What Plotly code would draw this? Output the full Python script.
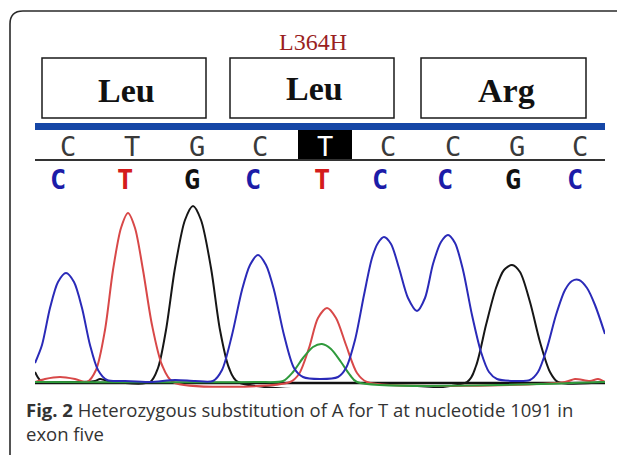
import plotly.graph_objects as go

W, H = 617, 447   # page body margin of 8px shifts the figure; 8+617 = 625
OFF = 8

# ---- data ----
codons = ["Leu", "Leu", "Arg"]
mutation_label = "L364H"
ref_bases = ["C", "T", "G", "C", "T", "C", "C", "G", "C"]
ref_pos = [33, 97, 162, 225, 290, 353, 418, 482, 545]
call_bases = ["C", "T", "G", "C", "T", "C", "C", "G", "C"]
call_pos = [23, 90, 157, 218, 287, 345, 410, 478, 540]
highlight_index = 4

blue_x = [0, 7, 15, 23, 31, 39, 47, 55, 63, 72, 90, 115, 140, 160, 178, 187, 197, 207, 215, 223, 231, 239, 249, 259,
          268, 285, 303, 311, 320, 329, 337, 343, 349, 356, 364, 373, 382, 390, 398, 406, 413, 420, 428, 437, 446, 454,
          462, 480, 495, 503, 512, 521, 530, 537, 544, 552, 560, 570]
blue_y = [20, 38, 75, 101, 110, 101, 75, 38, 13, 3, 2, 1, 3, 2, 2, 13, 48, 93, 118, 128, 118, 93, 48, 15,
          6, 4, 6, 15, 43, 88, 125, 140, 146, 139, 115, 85, 72, 85, 119, 141, 148, 140, 113, 68, 31, 11,
          4, 2, 3, 11, 35, 68, 93, 102, 103, 95, 78, 49]
red_x = [0, 10, 25, 40, 52, 61, 70, 78, 86, 93, 100, 108, 117, 127, 138, 255, 264, 274, 283, 292, 301, 311, 322, 332,
         530, 540, 555, 563, 570]
red_y = [1, 4, 6, 4, 1, 13, 53, 113, 155, 170, 155, 113, 58, 18, 1, 1, 9, 35, 65, 75, 65, 38, 10, 1,
         1, 4, 2, 4, 1]
black_x = [0, 6, 25, 60, 65, 73, 115, 123, 131, 140, 150, 158, 166, 176, 185, 194, 203, 432, 441, 451, 461, 469, 477,
           485, 495, 505, 515, 523, 570]
black_y = [11, 2, 1, 2, 4, 2, 1, 15, 53, 115, 163, 177, 163, 115, 53, 15, 1, 1, 17, 58, 95, 113, 118,
           111, 81, 41, 11, 1, 1]
green_x = [0, 220, 248, 258, 268, 278, 287, 296, 306, 315, 322, 570]
green_y = [1, 1, 2, 11, 25, 36, 39, 34, 21, 8, 1, 1]

caption = "<b>Fig. 2</b> Heterozygous substitution of A for T at nucleotide 1091 in<br>exon five"


def px(x):
    return (x - OFF) / W


def py(y):
    return 1 - (y - OFF) / H


fig = go.Figure()
channels = [
    (black_x, black_y, "#161616", "G"),
    (red_x, red_y, "#d84848", "T"),
    (green_x, green_y, "#2f9a3c", "A"),
    (blue_x, blue_y, "#2a2ab8", "C"),
]
for xs, ys, col, nm in channels:
    fig.add_trace(go.Scatter(x=xs, y=ys, mode="lines", name=nm,
                             line=dict(color=col, width=2, shape="spline", smoothing=0.8),
                             hoverinfo="skip", showlegend=False))

shapes = []
shapes.append(dict(type="path", xref="paper", yref="paper",
                   path=f"M {px(10)},{py(470)} L {px(10)},{py(24)} Q {px(10)},{py(11)} {px(23)},{py(11)} L {px(640)},{py(11)}",
                   line=dict(color="#2a2a2a", width=1.6)))
for x0, x1 in [(42, 206), (230, 394), (421, 586)]:
    shapes.append(dict(type="rect", xref="paper", yref="paper", x0=px(x0), x1=px(x1), y0=py(118), y1=py(58),
                       line=dict(color="#1a1a1a", width=1.5), fillcolor="rgba(0,0,0,0)"))
shapes.append(dict(type="rect", xref="paper", yref="paper", x0=px(35), x1=px(605), y0=py(130), y1=py(123),
                   line=dict(width=0), fillcolor="#1546a6"))
shapes.append(dict(type="rect", xref="paper", yref="paper", x0=px(298), x1=px(352), y0=py(159), y1=py(130),
                   line=dict(width=0), fillcolor="#000000"))
shapes.append(dict(type="line", xref="paper", yref="paper", x0=px(35), x1=px(605), y0=py(160), y1=py(160),
                   line=dict(color="#333333", width=2)))
shapes.append(dict(type="line", xref="x", yref="y", x0=0, x1=570, y0=0, y1=0,
                   line=dict(color="#111111", width=2.5), layer="below"))

MONO = "DejaVu Sans Mono, Liberation Mono, monospace"
ann = []
ann.append(dict(text=mutation_label, xref="paper", yref="paper", x=px(313), y=py(42), showarrow=False,
                xanchor="center", yanchor="middle",
                font=dict(family="Liberation Serif, Times New Roman, serif", size=24, color="#9a1f1f")))
for lab, cx, cy in zip(codons, [126, 314, 506], [90, 88, 90]):
    ann.append(dict(text=f"<b>{lab}</b>", xref="paper", yref="paper", x=px(cx), y=py(cy), showarrow=False,
                    xanchor="center", yanchor="middle",
                    font=dict(family="Liberation Serif, Times New Roman, serif", size=34, color="#111111")))
for i, (b, xp) in enumerate(zip(ref_bases, ref_pos)):
    ann.append(dict(text=b, xref="x", yref="paper", x=xp, y=py(146), showarrow=False,
                    xanchor="center", yanchor="middle",
                    font=dict(family=MONO, size=27, color="#ffffff" if i == highlight_index else "#3a3a3a")))
call_colors = {"C": "#1c1ca8", "T": "#d41c1c", "G": "#111111", "A": "#2f9a3c"}
for b, xp in zip(call_bases, call_pos):
    ann.append(dict(text=f"<b>{b}</b>", xref="x", yref="paper", x=xp, y=py(179), showarrow=False,
                    xanchor="center", yanchor="middle",
                    font=dict(family=MONO, size=27, color=call_colors[b])))
ann.append(dict(text=caption, xref="paper", yref="paper", x=px(24), y=py(421), xanchor="left", yanchor="middle",
                align="left", showarrow=False,
                font=dict(family="Open Sans, Noto Sans, sans-serif", size=18.5, color="#333333")))

fig.update_layout(
    width=W, height=H, margin=dict(l=0, r=0, t=0, b=0),
    paper_bgcolor="white", plot_bgcolor="rgba(0,0,0,0)",
    shapes=shapes, annotations=ann,
    xaxis=dict(domain=[px(35), px(605)], range=[0, 570], visible=False, fixedrange=True),
    yaxis=dict(domain=[py(388), py(183)], range=[-5, 200], visible=False, fixedrange=True),
)
fig.write_html("out.html")
